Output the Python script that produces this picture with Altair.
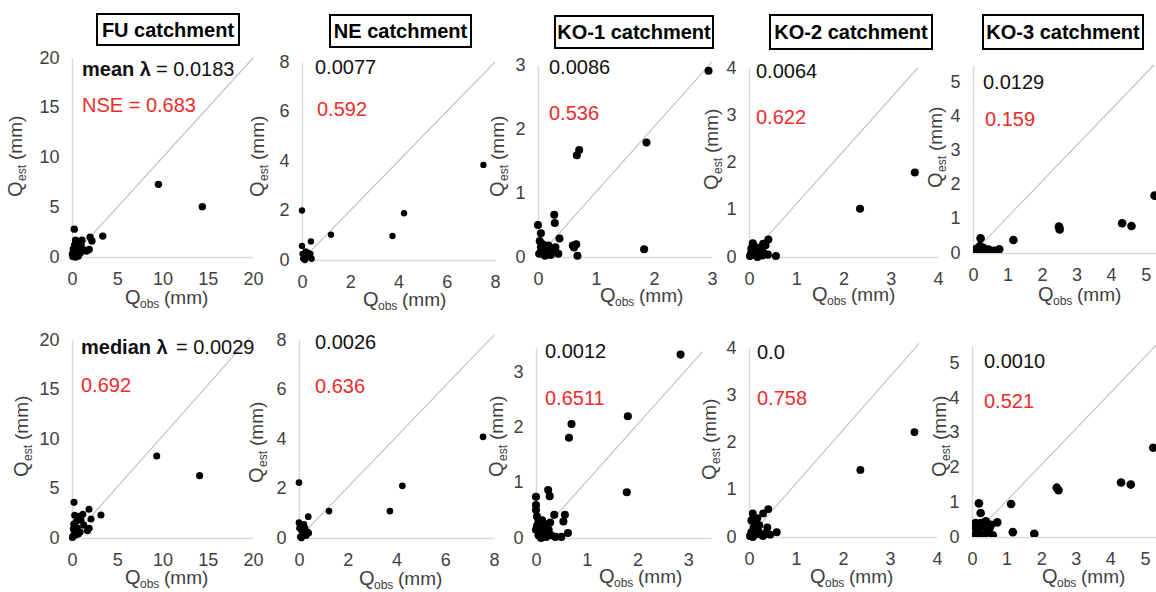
import altair as alt
import pandas as pd

FONT = "Liberation Sans"
TICK_COLOR = "#404040"
AXIS_COLOR = "#d9d9d9"
DIAG_COLOR = "#c4c4c4"
RED = "#ec2b2b"
BLACK = "#111111"

# ---------------- data ----------------
catchments = ["FU catchment", "NE catchment", "KO-1 catchment", "KO-2 catchment", "KO-3 catchment"]

lambda_mean = ["0.0183", "0.0077", "0.0086", "0.0064", "0.0129"]
nse_mean = ["0.683", "0.592", "0.536", "0.622", "0.159"]
lambda_median = ["0.0029", "0.0026", "0.0012", "0.0", "0.0010"]
nse_median = ["0.692", "0.636", "0.6511", "0.758", "0.521"]

# row 1 : mean lambda
fu1_obs = [9.55, 14.4, 3.4, 2.0, 2.2, 0.25, 0.4, 0.8, 1.1, 1.0, 0.6, 0.3, 0.2, 0.1, 1.6, 1.9, 0.5, 0.9, 0.3, 0.7, 0.15, 1.3, 0.4, 0.05]
fu1_est = [7.3, 5.06, 2.1, 2.0, 1.6, 2.8, 1.7, 1.5, 1.7, 1.2, 0.9, 0.5, 0.2, 0.05, 0.6, 0.75, 0.3, 0.4, 1.2, 0.1, 0.8, 0.7, 0.0, 0.3]
ne1_obs = [7.52, 0.0, 1.2, 0.37, 3.75, 4.23, 0.0, 0.05, 0.1, 0.15, 0.2, 0.3, 0.4, 0.25, 0.02, 0.12, 0.35]
ne1_est = [3.84, 2.0, 1.02, 0.75, 0.97, 1.89, 0.57, 0.05, 0.2, 0.35, 0.1, 0.15, 0.05, 0.3, 0.25, 0.0, 0.25]
ko11_obs = [2.94, 1.87, 1.83, 0.71, 0.67, 0.28, 0.29, 0.37, 0.0, 0.05, 0.62, 0.66, 0.6, 0.68, 0.02, 0.05, 0.1, 0.15, 0.2, 0.25, 0.3, 0.08, 0.12, 0.22, 0.03, 0.18, 0.35]
ko11_est = [2.91, 1.79, 0.12, 1.67, 1.59, 0.66, 0.53, 0.29, 0.5, 0.37, 0.15, 0.2, 0.18, 0.02, 0.05, 0.15, 0.1, 0.05, 0.12, 0.1, 0.15, 0.2, 0.02, 0.03, 0.25, 0.18, 0.05]
ko21_obs = [3.51, 2.35, 0.41, 0.08, 0.57, 0.02, 0.05, 0.1, 0.15, 0.2, 0.25, 0.3, 0.35, 0.12, 0.4, 0.18, 0.28, 0.05, 0.3]
ko21_est = [1.79, 1.02, 0.37, 0.29, 0.02, 0.02, 0.1, 0.05, 0.15, 0.08, 0.2, 0.1, 0.25, 0.22, 0.05, 0.0, 0.03, 0.18, 0.28]
ko31_obs = [5.26, 2.49, 2.51, 4.32, 4.59, 1.17, 0.22, 0.76, 0.05, 0.1, 0.15, 0.25, 0.3, 0.35, 0.45, 0.55, 0.2, 0.4, 0.6, 0.1]
ko31_est = [1.68, 0.77, 0.69, 0.87, 0.79, 0.38, 0.43, 0.11, 0.05, 0.12, 0.02, 0.08, 0.15, 0.03, 0.1, 0.0, 0.2, 0.05, 0.06, 0.0]

# row 2 : median lambda
fu2_obs = [9.36, 14.1, 3.2, 1.88, 2.1, 0.22, 1.7, 1.9, 0.3, 0.8, 1.2, 0.5, 1.0, 0.2, 0.6, 0.9, 0.3, 0.1, 0.05, 0.4, 1.3, 0.7, 0.15]
fu2_est = [8.28, 6.3, 2.32, 2.9, 1.92, 3.6, 0.74, 0.98, 2.3, 2.2, 2.4, 1.7, 1.8, 1.4, 1.0, 0.6, 0.6, 0.2, 0.05, 0.3, 1.3, 0.4, 0.9]
ne2_obs = [7.55, 0.0, 1.23, 3.73, 4.24, 0.38, 0.0, 0.05, 0.1, 0.15, 0.2, 0.25, 0.3, 0.35, 0.02, 0.1, 0.4, 0.2]
ne2_est = [4.09, 2.24, 1.09, 1.09, 2.11, 0.86, 0.62, 0.05, 0.3, 0.5, 0.2, 0.4, 0.1, 0.25, 0.4, 0.0, 0.2, 0.55]
ko12_obs = [2.85, 1.81, 1.79, 0.70, 0.65, 0.24, 0.27, 0.0, 0.0, 0.0, 0.02, 0.57, 0.54, 0.63, 0.36, 0.38, 0.5, 0.05, 0.1, 0.15, 0.2, 0.25, 0.3, 0.05, 0.1, 0.2, 0.0, 0.02, 0.12, 0.28]
ko12_est = [3.33, 2.21, 0.83, 2.07, 1.82, 0.87, 0.76, 0.75, 0.6, 0.51, 0.39, 0.42, 0.3, 0.09, 0.42, 0.02, 0.02, 0.3, 0.2, 0.1, 0.25, 0.15, 0.05, 0.05, 0.0, 0.02, 0.15, 0.22, 0.32, 0.28]
ko22_obs = [3.52, 2.37, 0.41, 0.08, 0.3, 0.59, 0.39, 0.02, 0.05, 0.1, 0.15, 0.2, 0.25, 0.05, 0.12, 0.3, 0.18, 0.22, 0.35, 0.45, 0.08]
ko22_est = [2.22, 1.42, 0.59, 0.5, 0.5, 0.1, 0.2, 0.02, 0.1, 0.2, 0.3, 0.12, 0.05, 0.35, 0.05, 0.02, 0.4, 0.25, 0.08, 0.05, 0.0]
ko32_obs = [5.24, 2.45, 2.5, 4.31, 4.59, 1.13, 1.18, 1.8, 0.2, 0.25, 0.73, 0.05, 0.1, 0.15, 0.2, 0.3, 0.35, 0.4, 0.45, 0.5, 0.6, 0.05, 0.1, 0.25, 0.55, 0.3]
ko32_est = [2.57, 1.42, 1.35, 1.57, 1.51, 0.95, 0.14, 0.09, 0.97, 0.69, 0.42, 0.05, 0.4, 0.2, 0.1, 0.3, 0.05, 0.45, 0.15, 0.25, 0.05, 0.3, 0.0, 0.4, 0.35, 0.0]

# axis extents and tick values
x_max_1 = [20, 8, 3, 4, 5.3]
y_max_1 = [20, 8, 3, 4, 5.5]
x_max_2 = [20, 8, 3.45, 4, 5.32]
y_max_2 = [20, 8, 3.45, 4, 5.5]
ticks = [[0, 5, 10, 15, 20], [0, 2, 4, 6, 8], [0, 1, 2, 3], [0, 1, 2, 3, 4], [0, 1, 2, 3, 4, 5]]
# end points of the reference line
diag_1 = [(20, 20), (8, 8), (3, 3.05), (3.57, 4.0), (5.24, 5.5)]
diag_2 = [(19.7, 20.3), (8, 8.2), (3.28, 3.38), (3.62, 4.1), (5.32, 5.52)]

# ---------------- layout (canvas pixels) ----------------
ROW_TOP = [50, 330]
# x0, x_end, y_bottom, y_top
geo_1 = [(72, 253, 257, 58), (302, 495, 260, 62), (538, 712, 257, 65), (749, 938, 257, 68), (973, 1156, 253, 65)]
geo_2 = [(72, 253, 538, 340), (299, 494, 538, 340), (536, 711, 538, 348), (749, 937, 537, 348), (972, 1156, 537, 346)]
sizes_1 = [55, 40, 65, 65, 75]
sizes_2 = [50, 45, 65, 62, 75]
lam_pos_1 = [(82, 70), (315, 68), (549, 68), (756, 72), (983, 83)]
nse_pos_1 = [(82, 106), (317, 110), (549, 114), (756, 118), (985, 120)]
lam_pos_2 = [(81, 348), (315, 343), (545, 352), (757, 353), (984, 362)]
nse_pos_2 = [(81, 386), (315, 387), (545, 399), (757, 399), (984, 402)]
eq_x = [156, 176]
box_1 = [(97, 14, 239, 45), (330, 15, 471, 47), (555, 16, 713, 48), (770, 15, 932, 49), (983, 15, 1143, 49)]
xt_pos_1 = [(125, 298), (363, 300), (600, 296), (812, 295), (1038, 295)]
xt_pos_2 = [(125, 578), (359, 579), (599, 577), (810, 577), (1042, 577)]
yt_pos_1 = [(16, 197), (258, 197), (498, 197), (712, 190), (936, 188)]
yt_pos_2 = [(22, 477), (257, 483), (497, 477), (710, 480), (940, 477)]

obs_1 = [fu1_obs, ne1_obs, ko11_obs, ko21_obs, ko31_obs]
est_1 = [fu1_est, ne1_est, ko11_est, ko21_est, ko31_est]
obs_2 = [fu2_obs, ne2_obs, ko12_obs, ko22_obs, ko32_obs]
est_2 = [fu2_est, ne2_est, ko12_est, ko22_est, ko32_est]


def txt(text, x, y, size, color=BLACK, weight="normal", angle=0, align="left", baseline="middle"):
    return alt.Chart(pd.DataFrame({"t": [text]})).mark_text(
        align=align, baseline=baseline, font=FONT, fontSize=size, color=color,
        fontWeight=weight, angle=angle
    ).encode(x=alt.value(x), y=alt.value(y), text="t:N")


def make_panel(i, row, frame_w):
    top = ROW_TOP[row]
    geo = (geo_1 if row == 0 else geo_2)[i]
    x0, xe, yb, yt = geo
    fx = x0  # frame left
    h = yb - top
    xmax = (x_max_1 if row == 0 else x_max_2)[i]
    ymax = (y_max_1 if row == 0 else y_max_2)[i]
    dx, dy = (diag_1 if row == 0 else diag_2)[i]
    clip = (i == 4)

    xaxis = alt.Axis(values=ticks[i], title=None, grid=False, ticks=False, tickSize=0,
                     domainColor=AXIS_COLOR, domainWidth=1.5, labelFont=FONT, labelFontSize=18,
                     labelColor=TICK_COLOR, labelPadding=13, labelFlush=False, labelOverlap=False,
                     format="d")
    yaxis = alt.Axis(values=ticks[i], title=None, grid=False, ticks=False, tickSize=0,
                     domainColor=AXIS_COLOR, domainWidth=1.5, labelFont=FONT, labelFontSize=18,
                     labelColor=TICK_COLOR, labelPadding=13, labelFlush=False, labelOverlap=False,
                     format="d")
    xs = alt.Scale(domain=[0, xmax], range=[0, xe - x0], nice=False, zero=True)
    ys = alt.Scale(domain=[0, ymax], range=[h, yt - top], nice=False, zero=True)

    diag = alt.Chart(pd.DataFrame({"a": [0, dx], "b": [0, dy]})).mark_line(
        color=DIAG_COLOR, strokeWidth=1.2, clip=clip
    ).encode(x=alt.X("a:Q", scale=xs, axis=xaxis), y=alt.Y("b:Q", scale=ys, axis=yaxis))

    obs = (obs_1 if row == 0 else obs_2)[i]
    est = (est_1 if row == 0 else est_2)[i]
    size = (sizes_1 if row == 0 else sizes_2)[i]
    pts = alt.Chart(pd.DataFrame({"a": obs, "b": est})).mark_circle(
        color="black", opacity=1, size=size, clip=clip
    ).encode(x=alt.X("a:Q", scale=xs, axis=xaxis), y=alt.Y("b:Q", scale=ys, axis=yaxis))

    layers = [diag, pts]

    # annotations
    lam = (lambda_mean if row == 0 else lambda_median)[i]
    nse = (nse_mean if row == 0 else nse_median)[i]
    lx, ly = (lam_pos_1 if row == 0 else lam_pos_2)[i]
    nx, ny = (nse_pos_1 if row == 0 else nse_pos_2)[i]
    if i == 0:
        if row == 0:
            layers.append(txt("mean λ", lx - fx, ly - top, 20, BLACK, "bold"))
            layers.append(txt("= " + lam, eq_x[0] - fx, ly - top, 20, BLACK))
            layers.append(txt("NSE = " + nse, nx - fx, ny - top, 20, RED))
        else:
            layers.append(txt("median λ", lx - fx, ly - top, 20, BLACK, "bold"))
            layers.append(txt("= " + lam, eq_x[1] - fx, ly - top, 20, BLACK))
            layers.append(txt(nse, nx - fx, ny - top, 20, RED))
    else:
        layers.append(txt(lam, lx - fx, ly - top, 20, BLACK))
        layers.append(txt(nse, nx - fx, ny - top, 20, RED))

    # x axis title  Q_obs (mm)
    qx, qy = (xt_pos_1 if row == 0 else xt_pos_2)[i]
    layers.append(txt("Q", qx - fx, qy - top, 20, TICK_COLOR))
    layers.append(txt("obs", qx + 15 - fx, qy + 6 - top, 12, TICK_COLOR))
    layers.append(txt("(mm)", qx + 39 - fx, qy - top, 19, TICK_COLOR))

    # y axis title  Q_est (mm) rotated
    cx, by = (yt_pos_1 if row == 0 else yt_pos_2)[i]
    layers.append(txt("Q", cx - fx, by - top, 20, TICK_COLOR, angle=270))
    layers.append(txt("est", cx + 6 - fx, by - 16 - top, 12, TICK_COLOR, angle=270))
    layers.append(txt("(mm)", cx - fx, by - 37 - top, 19, TICK_COLOR, angle=270))

    # boxed catchment titles on the top row
    if row == 0:
        bx1, by1, bx2, by2 = box_1[i]
        box = alt.Chart(pd.DataFrame({"t": [catchments[i]]})).mark_rect(
            fill="white", stroke="black", strokeWidth=2
        ).encode(x=alt.value(bx1 - fx), x2=alt.value(bx2 - fx),
                 y=alt.value(by1 - top), y2=alt.value(by2 - top))
        layers.append(box)
        layers.append(txt(catchments[i], (bx1 + bx2) / 2 - fx, (by1 + by2) / 2 + 1 - top, 20,
                          "black", "bold", align="center"))

    return alt.layer(*layers).properties(width=frame_w, height=h)


def row_chart(row):
    geo = geo_1 if row == 0 else geo_2
    starts = [g[0] for g in geo] + [1156]
    panels = [make_panel(i, row, starts[i + 1] - starts[i]) for i in range(5)]
    return alt.hconcat(*panels, spacing=0, bounds="flush")


row1 = row_chart(0)
row2 = row_chart(1)

# with flush bounds a nested row counts as zero height, so the spacing is the row pitch
chart = alt.vconcat(row1, row2, spacing=ROW_TOP[1] - ROW_TOP[0], bounds="flush").properties(
    padding={"left": 6, "top": 13, "right": 0, "bottom": 0},
    background="white",
).configure_view(stroke=None)

chart.save("out.html", embed_options={"renderer": "svg", "actions": False})
